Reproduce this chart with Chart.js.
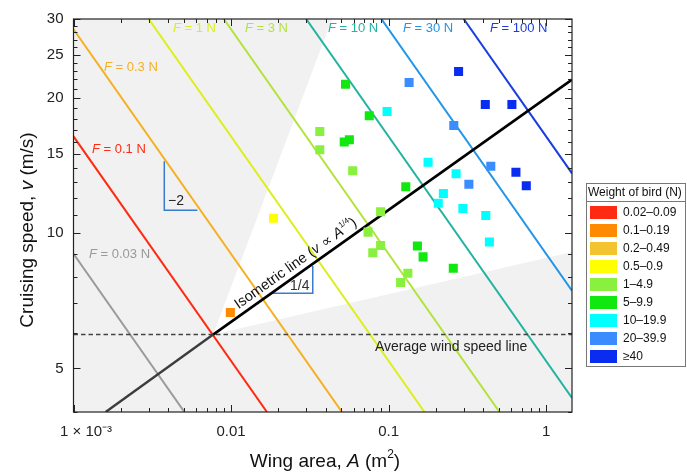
<!DOCTYPE html>
<html><head><meta charset="utf-8">
<script src="https://cdn.jsdelivr.net/npm/chart.js@4/dist/chart.umd.min.js"></script>
<style>html,body{margin:0;padding:0;background:#fff}canvas{display:block}</style>
</head><body>
<canvas id="c" width="687" height="473"></canvas>
<script>
const FONT = '"Liberation Sans", Arial, Helvetica, sans-serif';

// ---- axis ticks ----
const xTickValues = [0.001, 0.01, 0.1, 1];
const xTickLabels = ['      1 × 10⁻³', '0.01', '0.1', '1'];
const yTickValues = [5, 10, 15, 20, 25, 30];
const yTickLabels = ['5', '10', '15', '20', '25', '30'];

// ---- weight classes (legend) ----
const weightClasses = ['0.02–0.09', '0.1–0.19', '0.2–0.49', '0.5–0.9', '1–4.9', '5–9.9', '10–19.9', '20–39.9', '≥40'];
const classColors = ['#ff2a12', '#ff8a00', '#f4c430', '#ffff00', '#8af040', '#10e810', '#00ffff', '#3a8cff', '#0a2cf0'];

// ---- birds: wing area (m2), cruising speed (m/s), weight class index ----
const birdWingArea = [0.0099, 0.0186,
  0.0366, 0.0366, 0.0592, 0.089, 0.0741, 0.089, 0.0794, 0.1326, 0.1192,
  0.0533, 0.0754, 0.0523, 0.0564, 0.1286, 0.1524, 0.1656, 0.2575,
  0.0978, 0.1781, 0.2683, 0.2228, 0.2068, 0.2963, 0.4141, 0.4365,
  0.135, 0.2594, 0.4455, 0.3234,
  0.2782, 0.4111, 0.6066, 0.6433, 0.7484];
const birdSpeed = [6.66, 10.8,
  16.85, 15.35, 13.78, 11.17, 10.06, 9.39, 9.05, 8.15, 7.77,
  21.46, 18.26, 15.97, 16.15, 12.70, 9.37, 8.86, 8.36,
  18.67, 14.39, 13.57, 12.26, 11.67, 11.36, 10.96, 9.56,
  21.67, 17.38, 14.10, 12.86,
  22.92, 19.36, 19.36, 13.67, 12.76];
const birdClass = [1, 3,
  4, 4, 4, 4, 4, 4, 4, 4, 4,
  5, 5, 5, 5, 5, 5, 5, 5,
  6, 6, 6, 6, 6, 6, 6, 6,
  7, 7, 7, 7,
  8, 8, 8, 8, 8];

// ---- constant force lines (end points) ----
const forceLabels = ['0.03', '0.1', '0.3', '1', '3', '10', '30', '100'];
const forceColors = ['#9a9a9a', '#ff2a10', '#f4b020', '#dcef1c', '#b2e33c', '#22b3a0', '#2295e8', '#1a3de0'];
const forceAreaStart = [0.001, 0.001, 0.001, 0.003, 0.009, 0.03, 0.09, 0.3];
const forceSpeedStart = [9.0, 16.43, 28.46, 30, 30, 30, 30, 30];
const forceAreaEnd = [0.00506, 0.0169, 0.0506, 0.169, 0.506, 1.46, 1.46, 1.46];
const forceSpeedEnd = [4, 4, 4, 4, 4, 4.30, 7.45, 13.6];

// ---- isometric line, wind line, white wedge, slope triangles ----
const isoArea = [0.0016, 0.0077, 1.46];
const isoSpeed = [4.0, 5.95, 22.0];
const windArea = [0.001, 1.46];
const windSpeed = [5.95, 5.95];
const wedgeArea = [0.0077, 0.0438, 1.46, 1.46];
const wedgeSpeed = [5.95, 30, 30, 9.09];
const slopeTriArea = [0.00377, 0.00377, 0.00611];
const slopeTriSpeed = [14.46, 11.26, 11.26];
const quarterTriArea = [0.01813, 0.03302, 0.03302];
const quarterTriSpeed = [7.35, 7.35, 8.46];

const pts = (xs, ys) => xs.map((x, i) => ({x: x, y: ys[i]}));

const datasets = [];
weightClasses.forEach((name, c) => {
  const xs = [], ys = [];
  birdClass.forEach((k, i) => { if (k === c) { xs.push(birdWingArea[i]); ys.push(birdSpeed[i]); } });
  if (!xs.length) return;
  datasets.push({type: 'scatter', label: name, data: pts(xs, ys), pointStyle: 'rect', pointRadius: 6.4,
    backgroundColor: classColors[c], borderWidth: 0, order: 0});
});
forceLabels.forEach((f, i) => {
  datasets.push({type: 'line', label: 'F=' + f, data: pts([forceAreaStart[i], forceAreaEnd[i]], [forceSpeedStart[i], forceSpeedEnd[i]]),
    borderColor: forceColors[i], borderWidth: 2, pointRadius: 0, fill: false, order: 3});
});
datasets.push({type: 'line', label: 'iso-low', data: pts(isoArea.slice(0, 2), isoSpeed.slice(0, 2)), borderColor: '#3c3c3c', borderWidth: 2.4, pointRadius: 0, order: 2});
datasets.push({type: 'line', label: 'iso', data: pts(isoArea.slice(1), isoSpeed.slice(1)), borderColor: '#000', borderWidth: 2.7, pointRadius: 0, order: 2});
datasets.push({type: 'line', label: 'wind', data: pts(windArea, windSpeed), borderColor: '#444', borderWidth: 1.5, borderDash: [4.5, 3], pointRadius: 0, order: 2});
datasets.push({type: 'line', label: 'tri-2', data: pts(slopeTriArea, slopeTriSpeed), borderColor: '#3a7ccc', borderWidth: 1.5, pointRadius: 0, order: 2});
datasets.push({type: 'line', label: 'tri-q', data: pts(quarterTriArea, quarterTriSpeed), borderColor: '#3a7ccc', borderWidth: 1.5, pointRadius: 0, order: 2});

function font(size, style) { return (style || '') + ' ' + size + 'px ' + FONT; }
function drawRuns(ctx, runs, x, y, align) {
  let w = 0;
  runs.forEach(r => { ctx.font = font(r.size, r.style); r.w = ctx.measureText(r.t).width; w += r.w; });
  let cx = align === 'center' ? x - w / 2 : (align === 'right' ? x - w : x);
  runs.forEach(r => { ctx.font = font(r.size, r.style); ctx.fillText(r.t, cx, y - (r.dy || 0)); cx += r.w; });
}

const bgPlugin = {
  id: 'bg',
  beforeDatasetsDraw(chart) {
    const {ctx, chartArea: a, scales: {x, y}} = chart;
    ctx.save();
    ctx.fillStyle = '#f1f1f1';
    ctx.fillRect(a.left, a.top, a.right - a.left, a.bottom - a.top);
    ctx.beginPath(); ctx.rect(a.left, a.top, a.right - a.left, a.bottom - a.top); ctx.clip();
    ctx.beginPath();
    wedgeArea.forEach((v, i) => {
      const px = x.getPixelForValue(v), py = y.getPixelForValue(wedgeSpeed[i]);
      i ? ctx.lineTo(px, py) : ctx.moveTo(px, py);
    });
    ctx.closePath(); ctx.fillStyle = '#ffffff'; ctx.fill();
    ctx.restore();
  }
};

const overlayPlugin = {
  id: 'overlay',
  afterDatasetsDraw(chart) {
    const {ctx, chartArea: a, scales: {x, y}} = chart;
    ctx.save();
    // frame
    ctx.strokeStyle = '#222'; ctx.lineWidth = 1.2;
    ctx.strokeRect(a.left, a.top, a.right - a.left, a.bottom - a.top);
    // inward ticks
    ctx.lineWidth = 1;
    ctx.beginPath();
    for (let k = -3; k <= 0; k++) {
      for (let m = 1; m <= 9; m++) {
        const v = m * Math.pow(10, k);
        if (v < 0.001 || v > 1.46) continue;
        const px = Math.round(x.getPixelForValue(v)) + 0.5;
        const L = m === 1 ? 7 : 4;
        ctx.moveTo(px, a.bottom); ctx.lineTo(px, a.bottom - L);
        ctx.moveTo(px, a.top); ctx.lineTo(px, a.top + L);
      }
    }
    for (let v = 4; v <= 30; v++) {
      const py = Math.round(y.getPixelForValue(v)) + 0.5;
      const L = v % 5 === 0 ? 7 : 4;
      ctx.moveTo(a.left, py); ctx.lineTo(a.left + L, py);
      ctx.moveTo(a.right, py); ctx.lineTo(a.right - L, py);
    }
    ctx.stroke();

    // force labels
    const flPos = [[89, 254], [92, 149], [104, 67], [173, 28], [245, 28], [328, 28], [403, 28], [490, 28]];
    ctx.textBaseline = 'middle';
    forceLabels.forEach((f, i) => {
      ctx.fillStyle = forceColors[i];
      drawRuns(ctx, [{t: 'F', size: 13, style: 'italic'}, {t: ' = ' + f + ' N', size: 13}], flPos[i][0], flPos[i][1], 'left');
    });

    // slope texts
    ctx.fillStyle = '#222';
    ctx.font = font(14); ctx.fillText('−2', 168, 201);
    ctx.fillStyle = '#333';
    ctx.fillText('1/4', 290, 286);
    ctx.fillStyle = '#222';
    ctx.fillText('Average wind speed line', 375, 347);

    // isometric label
    const x1 = x.getPixelForValue(isoArea[1]), y1 = y.getPixelForValue(isoSpeed[1]);
    const x2 = x.getPixelForValue(isoArea[2]), y2 = y.getPixelForValue(isoSpeed[2]);
    const ang = Math.atan2(y2 - y1, x2 - x1);
    const t = (242 - x1) / (x2 - x1);
    ctx.save();
    ctx.translate(x1 + t * (x2 - x1), y1 + t * (y2 - y1));
    ctx.rotate(ang);
    ctx.textBaseline = 'alphabetic';
    ctx.fillStyle = '#111';
    drawRuns(ctx, [{t: 'Isometric line (', size: 14.5}, {t: 'v', size: 14.5, style: 'italic'}, {t: ' ∝ ', size: 14.5},
      {t: 'A', size: 14.5, style: 'italic'}, {t: '1/4', size: 8, dy: 7}, {t: ')', size: 14.5}], 0, -6, 'left');
    ctx.restore();

    // axis titles
    ctx.fillStyle = '#111';
    ctx.textBaseline = 'middle';
    drawRuns(ctx, [{t: 'Wing area, ', size: 19}, {t: 'A', size: 19, style: 'italic'}, {t: ' (m', size: 19}, {t: '2', size: 12, dy: 7}, {t: ')', size: 19}], 325, 462, 'center');
    ctx.save();
    ctx.translate(28, 230); ctx.rotate(-Math.PI / 2);
    drawRuns(ctx, [{t: 'Cruising speed, ', size: 19}, {t: 'v', size: 19, style: 'italic'}, {t: ' (m/s)', size: 19}], 0, 0, 'center');
    ctx.restore();

    // legend
    const lx = 586, ly = 183, lw = 99, lh = 183;
    ctx.fillStyle = '#fff'; ctx.fillRect(lx, ly, lw, lh);
    ctx.strokeStyle = '#777'; ctx.lineWidth = 1;
    ctx.strokeRect(lx + 0.5, ly + 0.5, lw, lh);
    ctx.beginPath(); ctx.moveTo(lx, 201.5); ctx.lineTo(lx + lw, 201.5); ctx.stroke();
    ctx.fillStyle = '#111'; ctx.font = font(12);
    ctx.fillText('Weight of bird (N)', 588, 193);
    weightClasses.forEach((name, i) => {
      const cy = 212.5 + i * 18;
      ctx.fillStyle = classColors[i];
      ctx.fillRect(590, cy - 6.5, 27, 13);
      ctx.fillStyle = '#111';
      ctx.fillText(name, 623, cy);
    });
    ctx.restore();
  }
};

new Chart(document.getElementById('c'), {
  type: 'scatter',
  data: {datasets},
  options: {
    responsive: false, animation: false, events: [],
    layout: {padding: {top: 17, right: 115, left: 0, bottom: 0}},
    plugins: {legend: {display: false}, tooltip: {enabled: false}},
    scales: {
      x: {type: 'logarithmic', min: 0.001, max: 1.46, bounds: 'data',
        grid: {display: false, drawTicks: false}, border: {display: false},
        ticks: {autoSkip: false, maxRotation: 0, padding: 11, color: '#222', font: {family: FONT, size: 15},
          callback: (v, i) => xTickLabels[i]},
        afterBuildTicks: s => { s.ticks = xTickValues.map(v => ({value: v})); },
        afterFit: s => { s.height = 61; }},
      y: {type: 'logarithmic', min: 4, max: 30, bounds: 'data',
        grid: {display: false, drawTicks: false}, border: {display: false},
        ticks: {autoSkip: false, padding: 10, color: '#222', font: {family: FONT, size: 15},
          callback: (v, i) => yTickLabels[i]},
        afterBuildTicks: s => { s.ticks = yTickValues.map(v => ({value: v})); },
        afterFit: s => { s.width = 73.5; }}
    }
  },
  plugins: [bgPlugin, overlayPlugin]
});
</script>
</body></html>
